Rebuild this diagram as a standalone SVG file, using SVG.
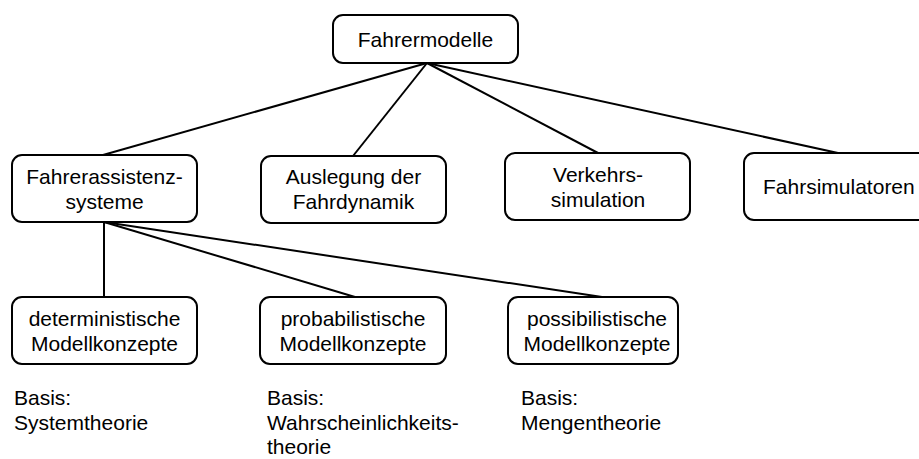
<svg xmlns="http://www.w3.org/2000/svg" width="919" height="459" viewBox="0 0 919 459">
<style>
.box{fill:#fff;stroke:#000;stroke-width:2}
.t{font-family:"Liberation Sans",Arial,sans-serif;font-size:21px;fill:#000}
.c{text-anchor:middle}
.ln{stroke:#000;stroke-width:2;fill:none}
</style>
<rect width="919" height="459" fill="#fff"/>
<g id="connectors">
<line class="ln" x1="427" y1="63" x2="103" y2="155"/>
<line class="ln" x1="427" y1="63" x2="353" y2="156"/>
<line class="ln" x1="427" y1="63" x2="598" y2="153"/>
<line class="ln" x1="427" y1="63" x2="838" y2="153"/>
<line class="ln" x1="104" y1="222" x2="104" y2="297"/>
<line class="ln" x1="104" y1="222" x2="355" y2="297"/>
<line class="ln" x1="104" y1="222" x2="602" y2="297"/>
</g>
<g id="fahrermodelle">
<rect class="box" x="333" y="15" width="185" height="48" rx="10"/>
<text class="t c" x="425.5" y="47">Fahrermodelle</text>
</g>
<g id="fahrerassistenz">
<rect class="box" x="12" y="155" width="185" height="67" rx="10"/>
<text class="t c" x="104.5" y="183.5">Fahrerassistenz-</text>
<text class="t c" x="104.5" y="208.5">systeme</text>
</g>
<g id="auslegung">
<rect class="box" x="261" y="156" width="185" height="67" rx="10"/>
<text class="t c" x="353.5" y="184">Auslegung der</text>
<text class="t c" x="353.5" y="209">Fahrdynamik</text>
</g>
<g id="verkehrssimulation">
<rect class="box" x="505" y="153" width="185" height="67" rx="10"/>
<text class="t c" x="598" y="181.5">Verkehrs-</text>
<text class="t c" x="598" y="206.5">simulation</text>
</g>
<g id="fahrsimulatoren">
<rect class="box" x="744" y="153" width="185" height="67" rx="10"/>
<text class="t" x="763" y="194">Fahrsimulatoren</text>
</g>
<g id="deterministisch">
<rect class="box" x="12" y="297" width="185" height="67" rx="10"/>
<text class="t c" x="104.5" y="325.5">deterministische</text>
<text class="t c" x="104.5" y="350.5">Modellkonzepte</text>
</g>
<g id="probabilistisch">
<rect class="box" x="260" y="297" width="186" height="67" rx="10"/>
<text class="t c" x="353" y="325.5">probabilistische</text>
<text class="t c" x="353" y="350.5">Modellkonzepte</text>
</g>
<g id="possibilistisch">
<rect class="box" x="508" y="297" width="170" height="67" rx="10"/>
<text class="t c" x="597" y="325.5">possibilistische</text>
<text class="t c" x="597" y="350.5">Modellkonzepte</text>
</g>
<g id="basis">
<text class="t" x="14" y="405">Basis:</text>
<text class="t" x="14" y="430">Systemtheorie</text>
<text class="t" x="267" y="405">Basis:</text>
<text class="t" x="267" y="430">Wahrscheinlichkeits-</text>
<text class="t" x="267" y="454">theorie</text>
<text class="t" x="521" y="405">Basis:</text>
<text class="t" x="521" y="430">Mengentheorie</text>
</g>
</svg>
